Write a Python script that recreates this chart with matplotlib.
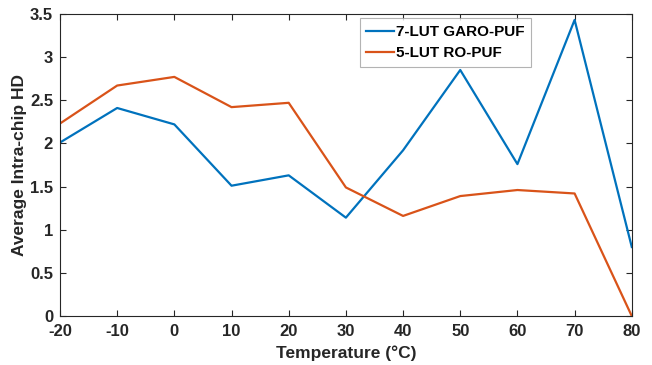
import matplotlib
matplotlib.use("Agg")
import matplotlib.pyplot as plt

temps = [-20, -10, 0, 10, 20, 30, 40, 50, 60, 70, 80]
garo_hd = [2.01, 2.41, 2.22, 1.51, 1.63, 1.14, 1.92, 2.85, 1.76, 3.43, 0.80]
ro_hd = [2.23, 2.67, 2.77, 2.42, 2.47, 1.49, 1.16, 1.39, 1.46, 1.42, 0.0]
yticks = [0, 0.5, 1, 1.5, 2, 2.5, 3, 3.5]
ytick_labels = ["0", "0.5", "1", "1.5", "2", "2.5", "3", "3.5"]

plt.rcParams["font.family"] = ["Liberation Sans", "DejaVu Sans"]
plt.rcParams["font.weight"] = "bold"

fig = plt.figure(figsize=(6.52, 3.65), dpi=100)
ax = fig.add_axes([0.092, 0.134, 0.877, 0.828])

ax.plot(temps, garo_hd, color=(0, 0.447, 0.741), lw=1.6, label="7-LUT GARO-PUF")
ax.plot(temps, ro_hd, color=(0.85, 0.325, 0.098), lw=1.6, label="5-LUT RO-PUF")

ax.set_xlim(-20, 80)
ax.set_ylim(0, 3.5)
ax.set_xticks(temps)
ax.set_xticklabels([str(t) for t in temps])
ax.set_yticks(yticks)
ax.set_yticklabels(ytick_labels)
ax.tick_params(direction="in", top=True, right=True, labelsize=12, length=4, width=0.8, colors="#262626")
ax.tick_params(axis="x", pad=6)
ax.tick_params(axis="y", pad=5)
for s in ax.spines.values():
    s.set_color("#262626")
    s.set_linewidth(0.8)

ax.set_xlabel("Temperature (°C)", fontsize=12.5, fontweight="bold", color="#262626", labelpad=4)
ax.set_ylabel("Average Intra-chip HD", fontsize=12.5, fontweight="bold", color="#262626", labelpad=2)

leg = ax.legend(loc="upper left", bbox_to_anchor=(0.524, 0.985), fontsize=11, frameon=True,
                fancybox=False, edgecolor="#a0a0a0", handlelength=1.8, handletextpad=0.1,
                borderpad=0.45, labelspacing=0.45, borderaxespad=0)
leg.get_frame().set_linewidth(0.8)

fig.savefig("out.png", dpi=100)
